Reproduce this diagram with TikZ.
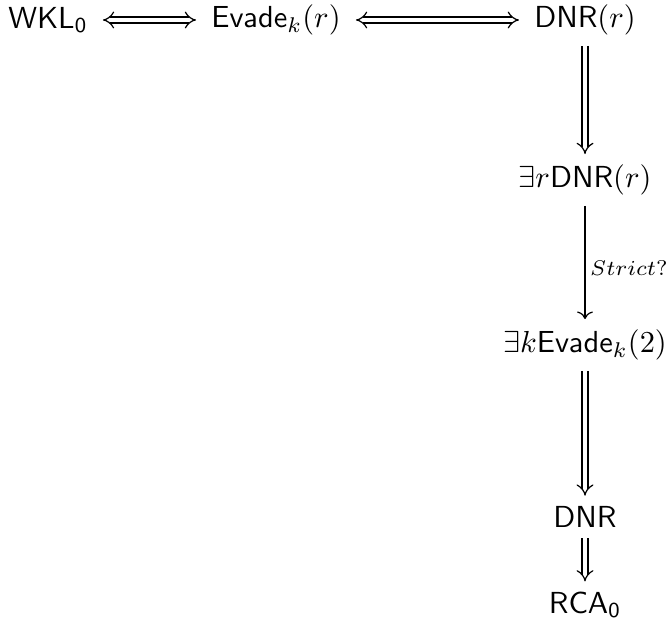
\documentclass[tikz,border=0pt]{standalone}
\usepackage{amsmath}
\usepackage{amssymb}
\usetikzlibrary{arrows.meta}

\begin{document}
\begin{tikzpicture}[x=0.1155mm, y=-0.1155mm,
    iff/.style={double equal sign distance, Implies-Implies, shorten <=1.5pt, shorten >=1.5pt},
    impl/.style={double equal sign distance, -Implies},
    single/.style={-{Computer Modern Rightarrow}}]
    \useasboundingbox (0,0) rectangle (668,638);
    % top row
    \node (wkl) at (48,20) {$\mathsf{WKL_0}$};
    \node (evk) at (276,20) {$\mathsf{Evade}_k(r)$};
    \node (dnrr) at (585,20) {$\mathsf{DNR}(r)$};
    % right column
    \node (exdnr) at (585,180) {$\exists r\mathsf{DNR}(r)$};
    \node (exev) at (585,345) {$\exists k\mathsf{Evade}_k(2)$};
    \node (dnr) at (585,517) {$\mathsf{DNR}$};
    \node (rca) at (585,605) {$\mathsf{RCA_0}$};
    \draw[iff] (wkl) -- (evk);
    \draw[iff] (evk) -- (dnrr);
    \draw[impl] (dnrr) -- (exdnr);
    \draw[single] (exdnr) -- node[right, inner sep=1.5pt, pos=0.55] {$\scriptstyle Strict?$} (exev);
    \draw[impl] (exev) -- (dnr);
    \draw[impl] (dnr) -- (rca);
\end{tikzpicture}
\end{document}
